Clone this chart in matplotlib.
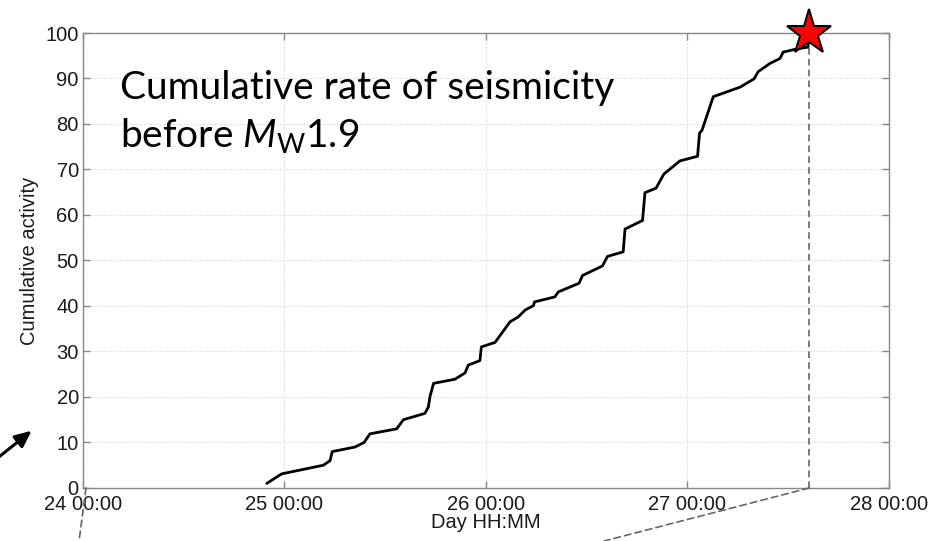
"""
Cumulative seismicity curve leading up to the Mw 1.9 event.

Output:
- out.png
"""

import matplotlib.pyplot as plt
from matplotlib.patches import ConnectionPatch
from matplotlib.ticker import FuncFormatter


# event times as fractional days of the month, cumulative activity (normalised to 100)
event_day = [
    24.912, 24.986, 25.193, 25.226, 25.237, 25.350, 25.395, 25.424,
    25.557, 25.590, 25.697, 25.714, 25.722, 25.740, 25.846, 25.896,
    25.912, 25.970, 25.977, 26.045, 26.119, 26.160, 26.194, 26.236,
    26.241, 26.342, 26.359, 26.462, 26.479, 26.578, 26.603, 26.681,
    26.690, 26.777, 26.789, 26.844, 26.883, 26.963, 27.050, 27.060,
    27.072, 27.128, 27.261, 27.330, 27.351, 27.409, 27.459, 27.475,
    27.542, 27.598, 27.604,
]
cumulative = [
    1.0, 3.1, 5.0, 6.0, 8.0, 9.0, 10.0, 11.9,
    13.0, 15.0, 16.4, 17.8, 20.1, 23.0, 23.9, 25.3,
    27.0, 28.0, 31.0, 32.0, 36.5, 37.6, 39.1, 40.1,
    40.9, 42.0, 43.1, 45.0, 46.7, 48.8, 50.9, 51.9,
    56.9, 58.8, 64.9, 65.9, 69.0, 71.9, 72.9, 78.0,
    78.6, 86.0, 88.1, 89.9, 91.5, 93.3, 94.4, 95.8,
    96.5, 96.9, 100.0,
]

# the Mw 1.9 mainshock
main_day = 27.604
main_value = 100.0

x_ticks = [24, 25, 26, 27, 28]
y_ticks = list(range(0, 101, 10))

TICK_FONT = "Liberation Sans"
TITLE_FONT = "Lato"
LABEL_SIZE = 14.5

plt.rcParams["mathtext.fontset"] = "custom"
plt.rcParams["mathtext.rm"] = TITLE_FONT
plt.rcParams["mathtext.it"] = TITLE_FONT + ":italic"


def day_label(value, _pos):
    day = int(value)
    minutes = int(round((value - day) * 24 * 60))
    return f"{day} {minutes // 60:02d}:{minutes % 60:02d}"


fig = plt.figure(figsize=(9.41, 5.41), dpi=100)
ax = fig.add_axes([0.0882, 0.098, 0.8565, 0.841])

ax.plot(event_day, cumulative, color="black", lw=2.0, solid_capstyle="round",
        solid_joinstyle="round", zorder=3)

# dashed marker line from the mainshock down to the time axis
ax.plot([main_day, main_day], [0, main_value], color="#666666", lw=1.2,
        ls=(0, (4, 2.5)), zorder=2)
ax.plot(main_day, main_value, marker="*", ms=34, mfc="red", mec="black",
        mew=1.4, clip_on=False, zorder=5)

# connector lines running off towards the panel below
for x_from, x_to in [(x_ticks[0] + 0.015, 0.084), (main_day, 0.642)]:
    con = ConnectionPatch(xyA=(x_from, 0), coordsA=ax.transData,
                          xyB=(x_to, 0.0), coordsB=fig.transFigure,
                          color="#666666", lw=1.2, ls=(0, (4, 2.5)))
    fig.add_artist(con)

ax.annotate("", xy=(0.036, 0.207), xycoords="figure fraction",
            xytext=(-0.005, 0.150), textcoords="figure fraction",
            arrowprops=dict(arrowstyle="-|>,head_length=1.0,head_width=0.45",
                            color="black", lw=2.2))

ax.set_xlim(x_ticks[0], x_ticks[-1])
ax.set_ylim(0, 100)
ax.set_xticks(x_ticks)
ax.set_yticks(y_ticks)
ax.xaxis.set_major_formatter(FuncFormatter(day_label))

ax.grid(True, color="#dcdcdc", lw=0.8, ls=(0, (1.5, 1.5)))
ax.set_axisbelow(True)
ax.tick_params(direction="in", length=5, width=1, color="#888888",
               top=True, right=True, labelsize=LABEL_SIZE, labelcolor="#1a1a1a")
ax.tick_params(axis="x", pad=5)
ax.tick_params(axis="y", pad=3)
for lbl in ax.get_xticklabels() + ax.get_yticklabels():
    lbl.set_fontfamily(TICK_FONT)
for spine in ax.spines.values():
    spine.set_color("#888888")
    spine.set_linewidth(1.0)

ax.set_xlabel("Day HH:MM", fontsize=LABEL_SIZE, family=TICK_FONT,
              color="#1a1a1a", labelpad=-1)
ax.set_ylabel("Cumulative activity", fontsize=LABEL_SIZE, family=TICK_FONT,
              color="#1a1a1a", labelpad=5)

fig.text(0.127, 0.792, "Cumulative rate of seismicity\n"
         r"before $\mathit{M}_\mathrm{W}$1.9",
         fontsize=28, family=TITLE_FONT, color="black", ha="left", va="center",
         linespacing=1.3)

fig.savefig("out.png", dpi=100)
plt.close(fig)
